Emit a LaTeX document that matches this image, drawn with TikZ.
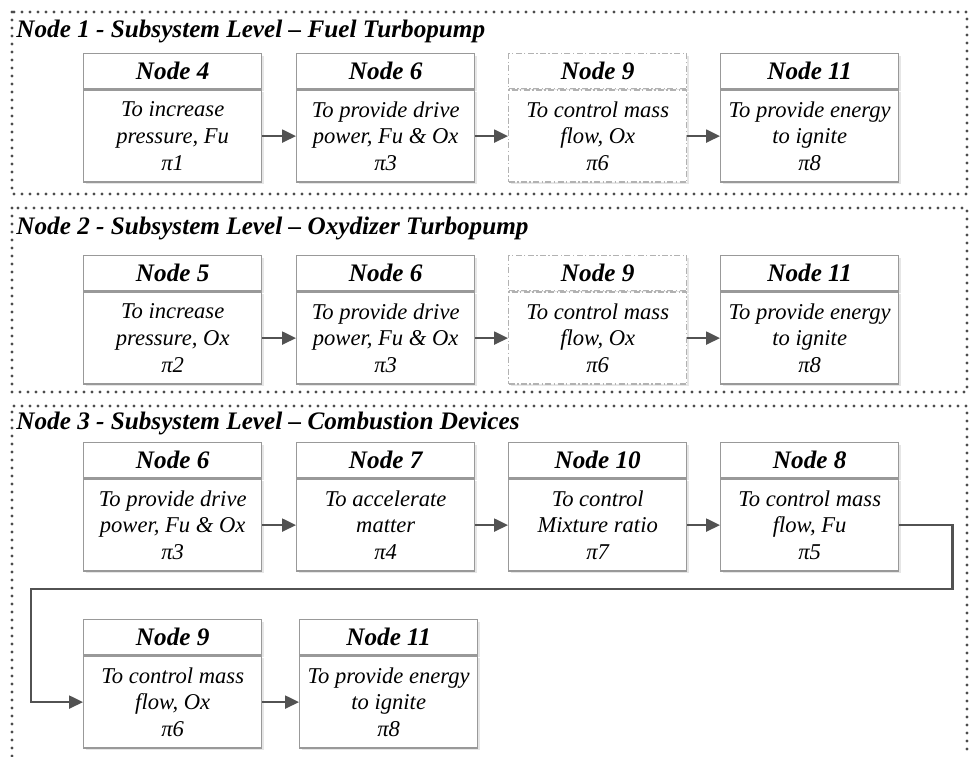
\documentclass[tikz,border=0pt]{standalone}
\usepackage{fontspec}
\setmainfont{Liberation Serif}
\usetikzlibrary{positioning,arrows.meta,shadows}

\tikzset{
  headbox/.style={draw=black!40, fill=white, line width=0.7pt, minimum width=89pt,
    minimum height=17.5pt, inner sep=0pt, font=\fontsize{12.6}{15}\selectfont\bfseries\itshape,
    drop shadow={shadow xshift=0.9pt, shadow yshift=-0.9pt, opacity=0.2}},
  bodybox/.style={headbox, minimum height=46pt, align=center,
    font=\fontsize{11.3}{13.3}\selectfont\itshape},
  dashbox/.style={draw=black!30, dash pattern=on 3pt off 1.2pt on 0.7pt off 1.2pt},
  frame/.style={draw=black!70, line width=1.6pt, line cap=round, dash pattern=on 0pt off 4pt},
  title/.style={anchor=west, inner sep=0pt, font=\fontsize{12.6}{15}\selectfont\bfseries\itshape},
  flow/.style={draw=black!68, line width=1.2pt, -{Triangle[length=7pt,width=6.5pt]}}
}

% header box with body box below it
\newcommand{\funcbox}[5][]{%
  \node[headbox,#1,anchor=north west] (#2h) at (#3) {#4};
  \node[bodybox,#1,below=0pt of #2h] (#2) {#5};}

\begin{document}
\begin{tikzpicture}[x=0.5pt,y=-0.5pt]
  \useasboundingbox (0,0) rectangle (970,756);

  % subsystem frames
  \draw[frame] (12,12) rectangle (967,194);
  \draw[frame] (12,208) rectangle (967,392);
  \draw[frame] (12,756) -- (12,406) -- (967,406) -- (967,756);

  \node[title] (t1) at (16,31) {Node 1 - Subsystem Level \textendash\ Fuel Turbopump};
  \node[title] (t2) at (16,228) {Node 2 - Subsystem Level \textendash\ Oxydizer Turbopump};
  \node[title] (t3) at (16,423) {Node 3 - Subsystem Level \textendash\ Combustion Devices};

  % fuel turbopump
  \funcbox{a1}{83,53}{Node 4}{To increase\\pressure, Fu\\π1}
  \funcbox{a2}{296,53}{Node 6}{To provide drive\\power, Fu \& Ox\\π3}
  \funcbox[dashbox]{a3}{508,53}{Node 9}{To control mass\\flow, Ox\\π6}
  \funcbox{a4}{720,53}{Node 11}{To provide energy\\to ignite\\π8}

  % oxydizer turbopump
  \funcbox{b1}{83,255}{Node 5}{To increase\\pressure, Ox\\π2}
  \funcbox{b2}{296,255}{Node 6}{To provide drive\\power, Fu \& Ox\\π3}
  \funcbox[dashbox]{b3}{508,255}{Node 9}{To control mass\\flow, Ox\\π6}
  \funcbox{b4}{720,255}{Node 11}{To provide energy\\to ignite\\π8}

  % combustion devices
  \funcbox{c1}{83,442}{Node 6}{To provide drive\\power, Fu \& Ox\\π3}
  \funcbox{c2}{296,442}{Node 7}{To accelerate\\matter\\π4}
  \funcbox{c3}{508,442}{Node 10}{To control\\Mixture ratio\\π7}
  \funcbox{c4}{720,442}{Node 8}{To control mass\\flow, Fu\\π5}
  \funcbox{c5}{83,619}{Node 9}{To control mass\\flow, Ox\\π6}
  \funcbox{c6}{299,619}{Node 11}{To provide energy\\to ignite\\π8}

  \foreach \p/\q in {a1/a2,a2/a3,a3/a4,b1/b2,b2/b3,b3/b4,c1/c2,c2/c3,c3/c4,c5/c6}
    \draw[flow] (\p) -- (\q);

  \coordinate (turn) at (31,589);
  \draw[flow] (c4.east) -- ++(53,0) |- (turn) |- (c5);
\end{tikzpicture}
\end{document}
